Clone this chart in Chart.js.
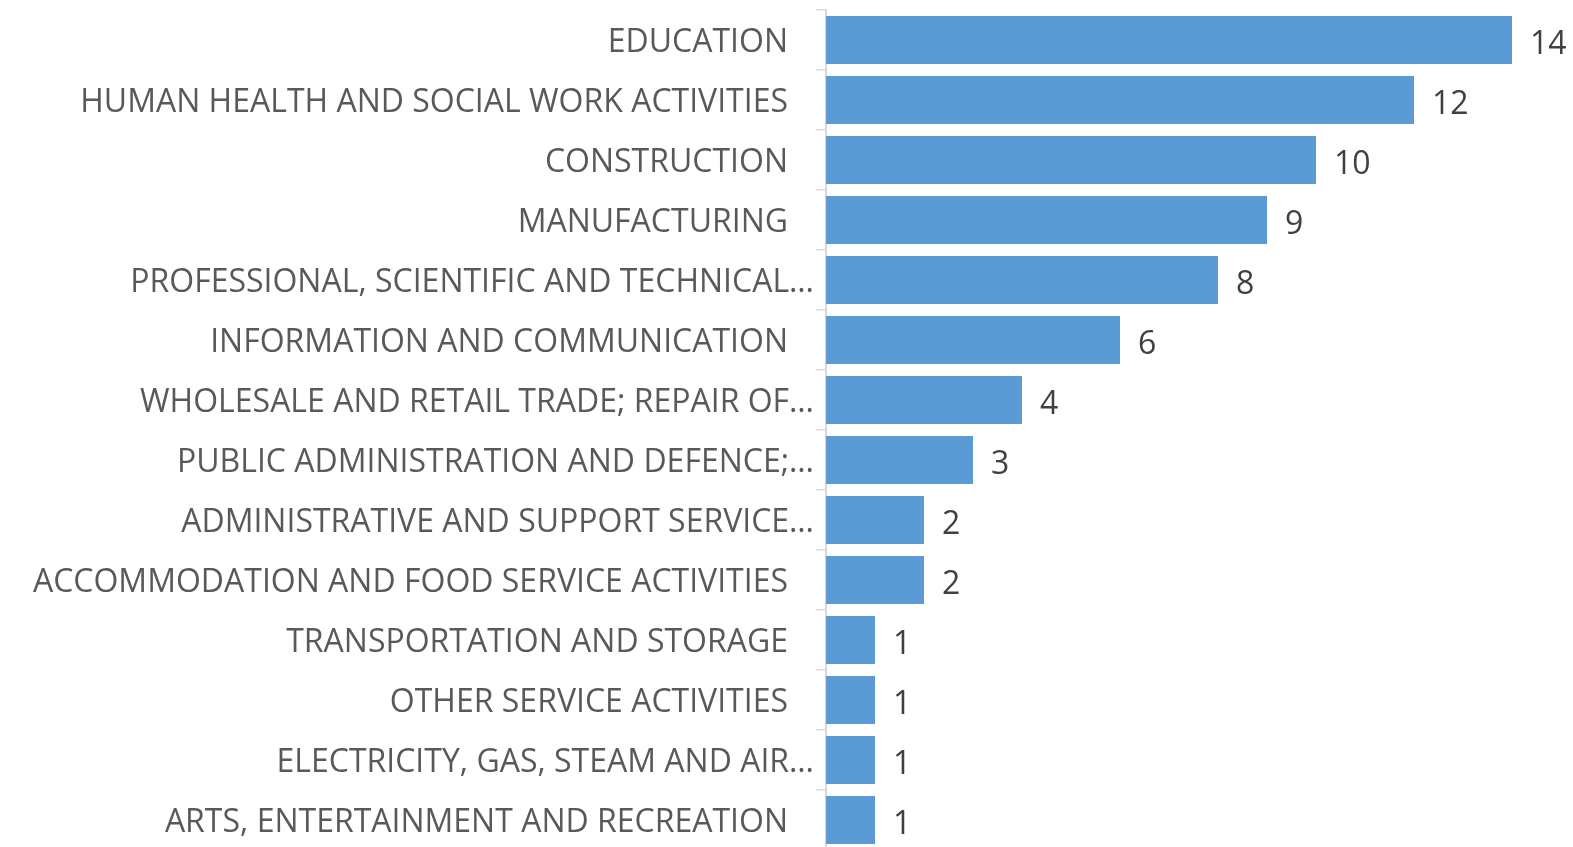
<!DOCTYPE html>
<html>
<head>
<meta charset="utf-8">
<script src="https://cdn.jsdelivr.net/npm/chart.js@4"></script>
<style>
  html, body { margin: 0; padding: 0; background: #fff; overflow: hidden; }
  #wrap { width: 1573px; height: 852px; }
</style>
</head>
<body>
<div id="wrap"><canvas id="sectorChart"></canvas></div>
<script>
const sectors = [
  'EDUCATION',
  'HUMAN HEALTH AND SOCIAL WORK ACTIVITIES',
  'CONSTRUCTION',
  'MANUFACTURING',
  'PROFESSIONAL, SCIENTIFIC AND TECHNICAL…',
  'INFORMATION AND COMMUNICATION',
  'WHOLESALE AND RETAIL TRADE; REPAIR OF…',
  'PUBLIC ADMINISTRATION AND DEFENCE;…',
  'ADMINISTRATIVE AND SUPPORT SERVICE…',
  'ACCOMMODATION AND FOOD SERVICE ACTIVITIES',
  'TRANSPORTATION AND STORAGE',
  'OTHER SERVICE ACTIVITIES',
  'ELECTRICITY, GAS, STEAM AND AIR…',
  'ARTS, ENTERTAINMENT AND RECREATION',
];
const counts = [14, 12, 10, 9, 8, 6, 4, 3, 2, 2, 1, 1, 1, 1];

const FONT = '"Open Sans", "DejaVu Sans", sans-serif';

// category names and value labels, drawn from the scales
const labelPlugin = {
  id: 'labels',
  afterDatasetsDraw(chart) {
    const { ctx, chartArea } = chart;
    const yScale = chart.scales.y;
    const bars = chart.getDatasetMeta(0).data;
    ctx.save();
    ctx.textBaseline = 'middle';

    ctx.font = '32px ' + FONT;
    ctx.fillStyle = '#595959';
    ctx.textAlign = 'right';
    sectors.forEach((name, i) => {
      const y = yScale.getPixelForValue(i);
      const x = name.endsWith('…') ? chartArea.left - 12 : chartArea.left - 38;
      ctx.fillText(name, x, y + 3);
    });

    ctx.font = '32px ' + FONT;
    ctx.fillStyle = '#404040';
    ctx.textAlign = 'left';
    bars.forEach((bar, i) => {
      ctx.fillText(String(counts[i]), bar.x + 18, bar.y + 5);
    });
    ctx.restore();
  }
};

new Chart(document.getElementById('sectorChart'), {
  type: 'bar',
  data: {
    labels: sectors,
    datasets: [{
      data: counts,
      backgroundColor: '#5B9BD5',
      barPercentage: 0.8,
      categoryPercentage: 1,
    }],
  },
  plugins: [labelPlugin],
  options: {
    indexAxis: 'y',
    responsive: true,
    maintainAspectRatio: false,
    animation: false,
    layout: { padding: { top: 10, bottom: 2, right: 12, left: 0 } },
    plugins: { legend: { display: false }, tooltip: { enabled: false } },
    scales: {
      x: { display: false, min: 0, max: 15 },
      y: {
        afterFit(scale) { scale.width = 826; },
        ticks: { display: false },
        grid: {
          offset: true,
          drawOnChartArea: false,
          tickLength: 10,
          color: '#D9D9D9',
          lineWidth: 1.5,
        },
        border: { display: true, color: '#D9D9D9', width: 2 },
      },
    },
  },
});
</script>
</body>
</html>
